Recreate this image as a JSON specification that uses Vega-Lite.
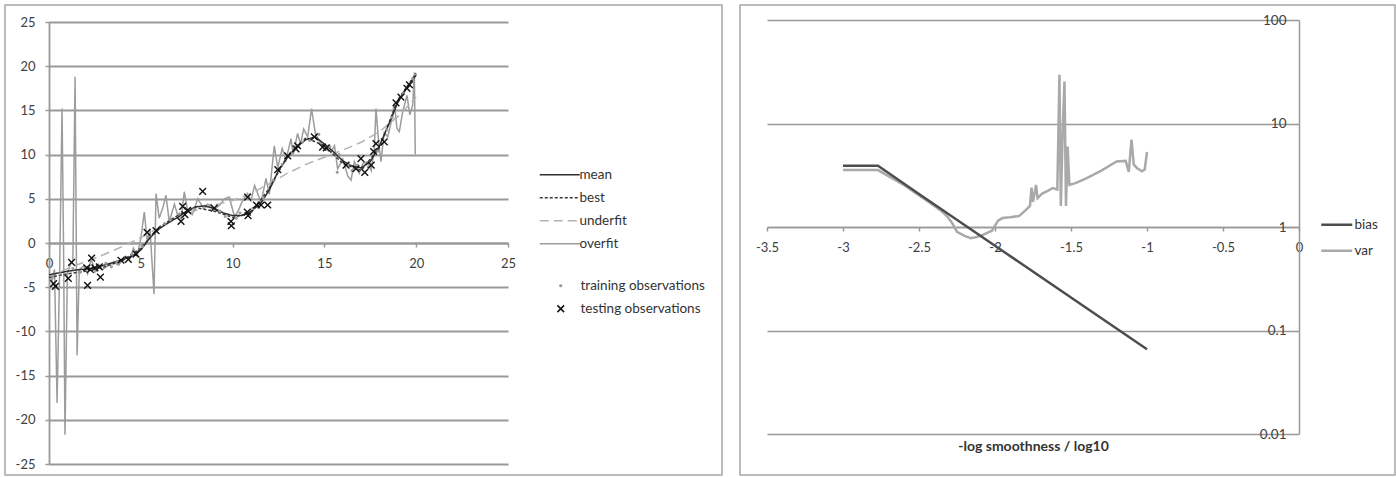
{
  "$schema": "https://vega.github.io/schema/vega-lite/v6.json",
  "padding": {"left": 4, "top": 4, "right": 0, "bottom": 0},
  "spacing": 16,
  "background": "white",
  "config": {
    "font": "Lato",
    "view": {"stroke": "#a6a6a6", "strokeWidth": 1.5},
    "axis": {"labelFont": "Lato", "labelFontSize": 13, "labelColor": "#404040", "domainColor": "#999999", "tickColor": "#999999", "gridColor": "#999999", "labelFlush": false, "labelOverlap": false},
    "legend": {"labelFont": "Lato", "labelFontSize": 13.5, "labelColor": "#333333", "padding": 0}
  },
  "resolve": {"scale": {"x": "independent", "y": "independent", "color": "independent", "strokeDash": "independent", "stroke": "independent", "shape": "independent", "size": "independent"}},
  "datasets": {
    "fit": [
      {"s":"overfit","x":0.0,"y":-3.8},{"s":"overfit","x":0.15,"y":-4.3},{"s":"overfit","x":0.3,"y":-3.0},{"s":"overfit","x":0.44,"y":-18.1},{"s":"overfit","x":0.58,"y":-3.2},{"s":"overfit","x":0.71,"y":15.2},{"s":"overfit","x":0.8,"y":-2.0},{"s":"overfit","x":0.87,"y":-21.7},{"s":"overfit","x":1.0,"y":-3.5},{"s":"overfit","x":1.15,"y":-2.5},{"s":"overfit","x":1.3,"y":-2.0},{"s":"overfit","x":1.42,"y":18.8},{"s":"overfit","x":1.53,"y":-12.7},{"s":"overfit","x":1.65,"y":-3.0},{"s":"overfit","x":1.9,"y":-2.6},{"s":"overfit","x":2.1,"y":-3.5},{"s":"overfit","x":2.3,"y":-1.8},{"s":"overfit","x":2.5,"y":-3.3},{"s":"overfit","x":2.7,"y":-2.4},{"s":"overfit","x":2.9,"y":-3.0},{"s":"overfit","x":3.2,"y":-2.6},{"s":"overfit","x":3.5,"y":-2.2},{"s":"overfit","x":3.8,"y":-2.5},{"s":"overfit","x":4.1,"y":-1.6},{"s":"overfit","x":4.4,"y":-1.8},{"s":"overfit","x":4.6,"y":-0.6},{"s":"overfit","x":4.8,"y":-1.5},{"s":"overfit","x":5.0,"y":0.5},{"s":"overfit","x":5.19,"y":3.5},{"s":"overfit","x":5.35,"y":0.2},{"s":"overfit","x":5.5,"y":1.6},{"s":"overfit","x":5.72,"y":-5.8},{"s":"overfit","x":5.83,"y":5.6},{"s":"overfit","x":6.0,"y":2.8},{"s":"overfit","x":6.2,"y":4.0},{"s":"overfit","x":6.37,"y":5.4},{"s":"overfit","x":6.55,"y":2.4},{"s":"overfit","x":6.83,"y":4.4},{"s":"overfit","x":7.0,"y":3.2},{"s":"overfit","x":7.19,"y":2.7},{"s":"overfit","x":7.37,"y":5.8},{"s":"overfit","x":7.55,"y":3.6},{"s":"overfit","x":7.8,"y":3.2},{"s":"overfit","x":8.1,"y":5.0},{"s":"overfit","x":8.4,"y":4.0},{"s":"overfit","x":8.64,"y":4.4},{"s":"overfit","x":9.0,"y":3.8},{"s":"overfit","x":9.3,"y":4.3},{"s":"overfit","x":9.55,"y":5.0},{"s":"overfit","x":9.82,"y":5.2},{"s":"overfit","x":10.1,"y":3.0},{"s":"overfit","x":10.3,"y":3.6},{"s":"overfit","x":10.5,"y":4.6},{"s":"overfit","x":10.8,"y":5.6},{"s":"overfit","x":11.0,"y":4.8},{"s":"overfit","x":11.2,"y":6.5},{"s":"overfit","x":11.55,"y":4.6},{"s":"overfit","x":11.82,"y":7.3},{"s":"overfit","x":12.0,"y":5.5},{"s":"overfit","x":12.27,"y":11.0},{"s":"overfit","x":12.46,"y":8.5},{"s":"overfit","x":12.7,"y":10.7},{"s":"overfit","x":12.91,"y":9.4},{"s":"overfit","x":13.18,"y":11.8},{"s":"overfit","x":13.3,"y":10.0},{"s":"overfit","x":13.54,"y":12.4},{"s":"overfit","x":13.7,"y":11.2},{"s":"overfit","x":13.87,"y":12.9},{"s":"overfit","x":14.09,"y":12.0},{"s":"overfit","x":14.3,"y":15.2},{"s":"overfit","x":14.5,"y":12.5},{"s":"overfit","x":14.7,"y":11.6},{"s":"overfit","x":15.0,"y":10.7},{"s":"overfit","x":15.36,"y":10.3},{"s":"overfit","x":15.55,"y":11.0},{"s":"overfit","x":15.72,"y":8.4},{"s":"overfit","x":16.0,"y":9.5},{"s":"overfit","x":16.27,"y":7.6},{"s":"overfit","x":16.45,"y":7.1},{"s":"overfit","x":16.63,"y":9.2},{"s":"overfit","x":16.9,"y":7.9},{"s":"overfit","x":17.1,"y":9.0},{"s":"overfit","x":17.36,"y":9.2},{"s":"overfit","x":17.55,"y":8.2},{"s":"overfit","x":17.72,"y":10.7},{"s":"overfit","x":17.81,"y":15.2},{"s":"overfit","x":17.95,"y":11.5},{"s":"overfit","x":18.08,"y":9.2},{"s":"overfit","x":18.26,"y":12.5},{"s":"overfit","x":18.45,"y":12.0},{"s":"overfit","x":18.63,"y":13.6},{"s":"overfit","x":18.81,"y":15.8},{"s":"overfit","x":18.95,"y":13.0},{"s":"overfit","x":19.08,"y":12.6},{"s":"overfit","x":19.26,"y":14.8},{"s":"overfit","x":19.5,"y":16.7},{"s":"overfit","x":19.65,"y":14.5},{"s":"overfit","x":19.81,"y":15.6},{"s":"overfit","x":19.9,"y":19.3},{"s":"overfit","x":19.95,"y":10.0},
      {"s":"underfit","x":0,"y":-3.8},{"s":"underfit","x":1,"y":-2.9},{"s":"underfit","x":2,"y":-2.1},{"s":"underfit","x":3,"y":-1.3},{"s":"underfit","x":4,"y":-0.4},{"s":"underfit","x":5,"y":0.6},{"s":"underfit","x":6,"y":1.7},{"s":"underfit","x":7,"y":2.8},{"s":"underfit","x":8,"y":3.7},{"s":"underfit","x":9,"y":4.3},{"s":"underfit","x":10,"y":4.8},{"s":"underfit","x":11,"y":5.6},{"s":"underfit","x":12,"y":6.7},{"s":"underfit","x":13,"y":7.9},{"s":"underfit","x":14,"y":8.9},{"s":"underfit","x":15,"y":9.7},{"s":"underfit","x":16,"y":10.5},{"s":"underfit","x":17,"y":11.4},{"s":"underfit","x":18,"y":12.6},{"s":"underfit","x":19,"y":14.3},{"s":"underfit","x":20,"y":16.5},
      {"s":"best","x":0,"y":-3.9},{"s":"best","x":1,"y":-3.5},{"s":"best","x":2,"y":-3.2},{"s":"best","x":3,"y":-2.7},{"s":"best","x":4,"y":-2.0},{"s":"best","x":5,"y":-0.6},{"s":"best","x":6,"y":1.8},{"s":"best","x":7,"y":3.1},{"s":"best","x":8,"y":4.0},{"s":"best","x":9,"y":3.6},{"s":"best","x":10,"y":2.9},{"s":"best","x":11,"y":3.4},{"s":"best","x":12,"y":6.2},{"s":"best","x":13,"y":9.9},{"s":"best","x":14,"y":11.9},{"s":"best","x":15,"y":11.0},{"s":"best","x":16,"y":9.0},{"s":"best","x":17,"y":8.2},{"s":"best","x":18,"y":10.8},{"s":"best","x":19,"y":16.2},{"s":"best","x":20,"y":19.2},
      {"s":"mean","x":0,"y":-3.6},{"s":"mean","x":0.5,"y":-3.4},{"s":"mean","x":1,"y":-3.2},{"s":"mean","x":1.5,"y":-3.05},{"s":"mean","x":2,"y":-2.95},{"s":"mean","x":2.5,"y":-2.8},{"s":"mean","x":3,"y":-2.5},{"s":"mean","x":3.5,"y":-2.2},{"s":"mean","x":4,"y":-1.9},{"s":"mean","x":4.5,"y":-1.5},{"s":"mean","x":5,"y":-0.8},{"s":"mean","x":5.5,"y":0.6},{"s":"mean","x":6,"y":1.6},{"s":"mean","x":6.5,"y":2.3},{"s":"mean","x":7,"y":2.9},{"s":"mean","x":7.5,"y":3.6},{"s":"mean","x":8,"y":4.1},{"s":"mean","x":8.5,"y":4.2},{"s":"mean","x":9,"y":3.9},{"s":"mean","x":9.5,"y":3.4},{"s":"mean","x":10,"y":3.1},{"s":"mean","x":10.5,"y":3.1},{"s":"mean","x":11,"y":3.6},{"s":"mean","x":11.5,"y":4.4},{"s":"mean","x":12,"y":6.0},{"s":"mean","x":12.5,"y":8.2},{"s":"mean","x":13,"y":9.7},{"s":"mean","x":13.5,"y":10.9},{"s":"mean","x":14,"y":11.7},{"s":"mean","x":14.5,"y":12.0},{"s":"mean","x":15,"y":11.2},{"s":"mean","x":15.5,"y":10.3},{"s":"mean","x":16,"y":9.3},{"s":"mean","x":16.5,"y":8.7},{"s":"mean","x":17,"y":8.5},{"s":"mean","x":17.5,"y":9.2},{"s":"mean","x":18,"y":11.0},{"s":"mean","x":18.5,"y":13.4},{"s":"mean","x":19,"y":15.9},{"s":"mean","x":19.5,"y":17.6},{"s":"mean","x":20,"y":19.0}
    ],
    "obs": [
      {"k":"training observations","x":0.2,"y":-3.9},{"k":"training observations","x":0.6,"y":-3.5},{"k":"training observations","x":1.3,"y":-2.9},{"k":"training observations","x":1.7,"y":-3.3},{"k":"training observations","x":2.6,"y":-3.1},{"k":"training observations","x":3.1,"y":-2.3},{"k":"training observations","x":3.4,"y":-2.7},{"k":"training observations","x":3.7,"y":-2.1},{"k":"training observations","x":4.5,"y":-1.3},{"k":"training observations","x":5.1,"y":-0.4},{"k":"training observations","x":5.5,"y":0.9},{"k":"training observations","x":6.3,"y":2.2},{"k":"training observations","x":6.6,"y":2.6},{"k":"training observations","x":7.1,"y":3.3},{"k":"training observations","x":7.9,"y":3.8},{"k":"training observations","x":8.8,"y":4.3},{"k":"training observations","x":9.3,"y":3.6},{"k":"training observations","x":9.6,"y":3.0},{"k":"training observations","x":10.2,"y":2.8},{"k":"training observations","x":10.4,"y":3.4},{"k":"training observations","x":11.1,"y":3.9},{"k":"training observations","x":11.7,"y":5.0},{"k":"training observations","x":12.2,"y":7.1},{"k":"training observations","x":12.7,"y":8.9},{"k":"training observations","x":13.2,"y":10.2},{"k":"training observations","x":13.8,"y":11.4},{"k":"training observations","x":14.2,"y":11.6},{"k":"training observations","x":14.7,"y":12.3},{"k":"training observations","x":15.3,"y":10.9},{"k":"training observations","x":15.7,"y":8.0},{"k":"training observations","x":15.8,"y":10.0},{"k":"training observations","x":16.3,"y":8.9},{"k":"training observations","x":16.5,"y":8.2},{"k":"training observations","x":16.8,"y":8.8},{"k":"training observations","x":17.4,"y":8.6},{"k":"training observations","x":17.9,"y":10.4},{"k":"training observations","x":18.4,"y":12.8},{"k":"training observations","x":18.7,"y":14.2},{"k":"training observations","x":19.3,"y":16.9},{"k":"training observations","x":19.8,"y":18.6},
      {"k":"testing observations","x":0.25,"y":-4.6},{"k":"testing observations","x":0.35,"y":-4.9},{"k":"testing observations","x":1.05,"y":-4.0},{"k":"testing observations","x":1.23,"y":-2.2},{"k":"testing observations","x":2.06,"y":-2.8},{"k":"testing observations","x":2.1,"y":-4.8},{"k":"testing observations","x":2.25,"y":-3.0},{"k":"testing observations","x":2.32,"y":-1.7},{"k":"testing observations","x":2.5,"y":-2.8},{"k":"testing observations","x":2.74,"y":-2.7},{"k":"testing observations","x":2.8,"y":-3.85},{"k":"testing observations","x":3.92,"y":-1.95},{"k":"testing observations","x":4.32,"y":-1.85},{"k":"testing observations","x":4.74,"y":-1.25},{"k":"testing observations","x":5.34,"y":1.2},{"k":"testing observations","x":5.83,"y":1.4},{"k":"testing observations","x":7.19,"y":2.45},{"k":"testing observations","x":7.28,"y":4.15},{"k":"testing observations","x":7.4,"y":3.2},{"k":"testing observations","x":7.55,"y":3.7},{"k":"testing observations","x":8.37,"y":5.85},{"k":"testing observations","x":9.0,"y":3.95},{"k":"testing observations","x":9.91,"y":2.45},{"k":"testing observations","x":9.93,"y":1.95},{"k":"testing observations","x":10.82,"y":5.2},{"k":"testing observations","x":10.8,"y":3.5},{"k":"testing observations","x":10.84,"y":3.1},{"k":"testing observations","x":11.3,"y":4.3},{"k":"testing observations","x":11.55,"y":4.3},{"k":"testing observations","x":11.91,"y":4.3},{"k":"testing observations","x":12.46,"y":8.3},{"k":"testing observations","x":13.0,"y":9.85},{"k":"testing observations","x":13.45,"y":10.65},{"k":"testing observations","x":13.54,"y":11.0},{"k":"testing observations","x":14.45,"y":12.0},{"k":"testing observations","x":14.9,"y":10.85},{"k":"testing observations","x":15.1,"y":10.75},{"k":"testing observations","x":16.18,"y":8.8},{"k":"testing observations","x":16.72,"y":8.4},{"k":"testing observations","x":16.99,"y":9.55},{"k":"testing observations","x":17.2,"y":8.0},{"k":"testing observations","x":17.55,"y":8.8},{"k":"testing observations","x":17.68,"y":10.35},{"k":"testing observations","x":17.81,"y":11.25},{"k":"testing observations","x":18.26,"y":11.45},{"k":"testing observations","x":18.9,"y":15.85},{"k":"testing observations","x":19.17,"y":16.5},{"k":"testing observations","x":19.5,"y":17.5},{"k":"testing observations","x":19.63,"y":17.9}
    ],
    "bv": [
      {"s":"var","x":-3.0,"v":3.55},{"s":"var","x":-2.77,"v":3.55},{"s":"var","x":-2.6,"v":2.55},{"s":"var","x":-2.45,"v":1.8},{"s":"var","x":-2.35,"v":1.42},{"s":"var","x":-2.315,"v":1.27},{"s":"var","x":-2.28,"v":1.08},{"s":"var","x":-2.25,"v":0.9},{"s":"var","x":-2.2,"v":0.82},{"s":"var","x":-2.16,"v":0.78},{"s":"var","x":-2.12,"v":0.8},{"s":"var","x":-2.08,"v":0.84},{"s":"var","x":-2.02,"v":0.92},{"s":"var","x":-1.98,"v":1.15},{"s":"var","x":-1.95,"v":1.22},{"s":"var","x":-1.9,"v":1.24},{"s":"var","x":-1.84,"v":1.28},{"s":"var","x":-1.8,"v":1.45},{"s":"var","x":-1.77,"v":1.6},{"s":"var","x":-1.76,"v":2.4},{"s":"var","x":-1.75,"v":1.75},{"s":"var","x":-1.73,"v":2.55},{"s":"var","x":-1.72,"v":1.9},{"s":"var","x":-1.69,"v":2.1},{"s":"var","x":-1.65,"v":2.25},{"s":"var","x":-1.62,"v":2.38},{"s":"var","x":-1.59,"v":2.3},{"s":"var","x":-1.576,"v":29.5},{"s":"var","x":-1.567,"v":1.6},{"s":"var","x":-1.554,"v":9.0},{"s":"var","x":-1.543,"v":25.5},{"s":"var","x":-1.533,"v":1.6},{"s":"var","x":-1.522,"v":6.0},{"s":"var","x":-1.511,"v":2.55},{"s":"var","x":-1.47,"v":2.65},{"s":"var","x":-1.4,"v":2.95},{"s":"var","x":-1.3,"v":3.5},{"s":"var","x":-1.2,"v":4.3},{"s":"var","x":-1.14,"v":4.35},{"s":"var","x":-1.12,"v":3.4},{"s":"var","x":-1.102,"v":7.0},{"s":"var","x":-1.087,"v":4.0},{"s":"var","x":-1.065,"v":3.7},{"s":"var","x":-1.033,"v":3.45},{"s":"var","x":-1.015,"v":3.6},{"s":"var","x":-1.0,"v":5.3},
      {"s":"bias","x":-3.0,"v":3.9},{"s":"bias","x":-2.77,"v":3.9},{"s":"bias","x":-2.5,"v":2.08},{"s":"bias","x":-2.0,"v":0.66},{"s":"bias","x":-1.5,"v":0.208},{"s":"bias","x":-1.0,"v":0.066}
    ]
  },
  "hconcat": [
    {
      "width": 717,
      "height": 470,
      "encoding": {
        "x": {"field": "x", "type": "quantitative",
          "scale": {"domain": [0, 25], "range": [44, 503], "nice": false, "zero": false},
          "axis": {"title": null, "orient": "bottom", "offset": -232, "values": [0,5,10,15,20,25], "labelExpr": "datum.value + ''", "grid": false, "domainWidth": 1.8, "tickSize": 4, "tickWidth": 1.5, "labelPadding": 10, "labelFontSize": 13}},
        "y": {"field": "y", "type": "quantitative",
          "scale": {"domain": [-25, 25], "range": [459, 17], "nice": false, "zero": false},
          "axis": {"title": null, "orient": "left", "offset": -44, "values": [-25,-20,-15,-10,-5,0,5,10,15,20,25], "labelExpr": "datum.value + ''", "grid": true, "gridWidth": 1.8, "domainWidth": 1.8, "tickSize": 4, "tickWidth": 1.5, "labelPadding": 10}}
      },
      "layer": [
        {
          "data": {"name": "fit"},
          "mark": {"type": "line", "strokeWidth": 1.5},
          "encoding": {
            "color": {"field": "s", "type": "nominal",
              "scale": {"domain": ["mean", "best", "underfit", "overfit"], "range": ["#2e2e2e", "#3a3a3a", "#b3b3b3", "#9c9c9c"]},
              "legend": {"title": null, "orient": "none", "legendX": 548, "legendY": 163, "symbolType": "M-4,0H4", "symbolSize": 100, "symbolStrokeWidth": 1.5, "labelOffset": 13, "rowPadding": 8}},
            "strokeDash": {"field": "s", "type": "nominal",
              "scale": {"domain": ["mean", "best", "underfit", "overfit"], "range": [[1, 0], [3, 2], [9, 5], [1, 0]]},
              "legend": {"title": null, "orient": "none", "legendX": 548, "legendY": 163, "symbolType": "M-4,0H4", "symbolSize": 100, "symbolStrokeWidth": 1.5, "labelOffset": 13, "rowPadding": 8}}
          }
        },
        {
          "data": {"name": "obs"},
          "mark": {"type": "point", "filled": false, "strokeWidth": 1.4, "opacity": 1},
          "encoding": {
            "shape": {"field": "k", "type": "nominal",
              "scale": {"domain": ["training observations", "testing observations"], "range": ["circle", "M-1,-1L1,1M-1,1L1,-1"]},
              "legend": {"title": null, "orient": "none", "legendX": 549, "legendY": 274, "labelOffset": 13, "rowPadding": 8}},
            "stroke": {"field": "k", "type": "nominal",
              "scale": {"domain": ["training observations", "testing observations"], "range": ["#9a9a9a", "#111111"]},
              "legend": {"title": null, "orient": "none", "legendX": 549, "legendY": 274, "labelOffset": 13, "rowPadding": 8}},
            "size": {"field": "k", "type": "nominal",
              "scale": {"domain": ["training observations", "testing observations"], "range": [3, 45]},
              "legend": {"title": null, "orient": "none", "legendX": 549, "legendY": 274, "labelOffset": 13, "rowPadding": 8}}
          }
        }
      ]
    },
    {
      "width": 655,
      "height": 470,
      "data": {"name": "bv"},
      "mark": {"type": "line", "strokeWidth": 2.5},
      "encoding": {
        "x": {"field": "x", "type": "quantitative",
          "scale": {"domain": [-3.5, 0], "range": [27, 559], "nice": false, "zero": false},
          "axis": {"title": "-log smoothness / log10", "titleFont": "Lato", "titleFontSize": 14, "titleFontWeight": "bold", "titleColor": "#333333", "titleY": 219, "titleBaseline": "middle", "orient": "bottom", "offset": -248, "values": [-3.5,-3,-2.5,-2,-1.5,-1,-0.5,0], "labelExpr": "datum.value + ''", "grid": false, "domainWidth": 1.5, "tickSize": 4, "tickWidth": 1.5, "labelPadding": 10}},
        "y": {"field": "v", "type": "quantitative",
          "scale": {"type": "log", "domain": [0.01, 100], "range": [429, 15], "nice": false},
          "axis": {"title": null, "orient": "left", "offset": -559, "values": [0.01, 0.1, 1, 10, 100], "labelExpr": "datum.value + ''", "grid": true, "gridWidth": 1.5, "domainWidth": 1.5, "ticks": false, "labelPadding": 13, "labelFontSize": 13.5}},
        "color": {"field": "s", "type": "nominal",
          "scale": {"domain": ["bias", "var"], "range": ["#4d4d4d", "#a9a9a9"]},
          "legend": {"title": null, "orient": "none", "legendX": 590, "legendY": 213, "symbolType": "M-3.1,0H3.1", "symbolSize": 100, "symbolStrokeWidth": 2.5, "labelOffset": 11, "rowPadding": 11}}
      }
    }
  ]
}
